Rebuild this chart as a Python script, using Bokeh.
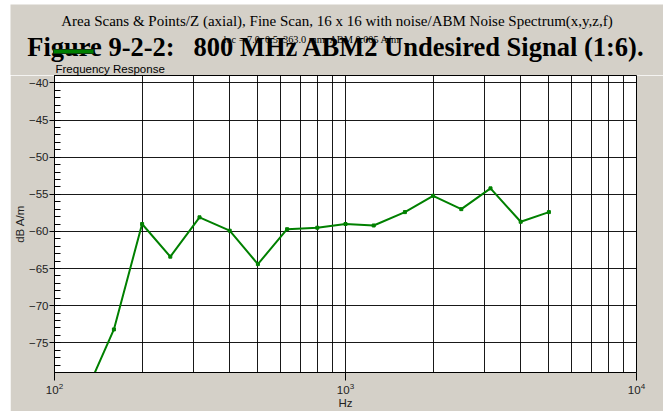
import math
from bokeh.plotting import figure
from bokeh.models import Range1d, FixedTicker, SingleIntervalTicker, Spacer
from bokeh.layouts import column, row
from bokeh.core.properties import value
from bokeh.embed import file_html
from bokeh.resources import INLINE

# Data
freq_hz = [125, 160, 200, 250, 315, 400, 500, 630, 800, 1000, 1250, 1600, 2000, 2500, 3150, 4000, 5000]
level_db = [-82.7, -73.2, -59.0, -63.4, -58.1, -59.9, -64.4, -59.7, -59.5, -59.0, -59.2, -57.4, -55.2, -57.0, -54.2, -58.7, -57.4]

x_major = [100, 1000, 10000]
x_minor = [200, 300, 400, 500, 600, 700, 800, 900, 2000, 3000, 4000, 5000, 6000, 7000, 8000, 9000]

title_top = "Area Scans & Points/Z (axial), Fine Scan, 16 x 16 with noise/ABM Noise Spectrum(x,y,z,f)"
title_fig = "Figure 9-2-2:"
title_main = "800 MHz ABM2 Undesired Signal (1:6)."
loc_text = "loc = 7.0, 0.5, 363.0 mm, ABM 0.005 A/m"
sub_title = "Frequency Response"
x_label = "Hz"
y_label = "dB A/m"

BG = "#d4d0c8"
GREEN = "#008000"
W = 653

# ---------------- header (titles) ----------------
HH = 71
h = figure(width=W, height=HH, output_backend="svg", toolbar_location=None,
           x_range=Range1d(0, W), y_range=Range1d(0, HH),
           x_axis_location=None, y_axis_location=None, min_border=0)
h.frame_align = False
h.grid.visible = False
h.outline_line_color = None
h.background_fill_color = BG
h.border_fill_color = BG

def htext(t, x, y, size, font="Liberation Serif", style="normal", align="left"):
    h.text(x=[x], y=[y], text=[t], text_font=value(font), text_font_size=value(size),
           text_font_style=style, text_align=align, text_baseline="alphabetic", text_color="black")

htext(title_top, 326.5, 54.5, "15px", align="center")
htext(title_fig, 16.7, 28.3, "26.5px", style="bold")
htext(title_main, 183, 28.3, "26.5px", style="bold")
htext(loc_text, 213, 36.3, "10.3px")
htext(sub_title, 45, 6.5, "11.5px", font="Liberation Sans")
h.quad(left=[43], right=[83], bottom=[22], top=[26], fill_color=GREEN, line_color="#0a400a", line_width=1)

# ---------------- main chart ----------------
p = figure(x_axis_type="log", output_backend="svg", toolbar_location=None,
           width=W, height=336,
           min_border_left=44, min_border_right=27, min_border_top=0, min_border_bottom=35,
           x_range=Range1d(100, 10000), y_range=Range1d(-79, -39))
p.frame_align = False
p.border_fill_color = BG
p.background_fill_color = "white"
p.outline_line_color = "black"
p.outline_line_width = 1

xa = p.xaxis[0]
xa.ticker = FixedTicker(ticks=x_major, minor_ticks=x_minor)
xa.major_tick_out = 8
xa.major_tick_in = 0
xa.minor_tick_out = 0
xa.minor_tick_in = 0
xa.axis_line_color = "black"
xa.major_tick_line_color = "black"
xa.major_label_text_font = "Liberation Sans"
xa.major_label_text_font_size = "11.5px"
xa.major_label_text_color = "#222222"
xa.major_label_standoff = 2
xa.axis_label = x_label
xa.axis_label_text_font = "Liberation Sans"
xa.axis_label_text_font_size = "11.5px"
xa.axis_label_text_font_style = "normal"
xa.axis_label_text_color = "#222222"
xa.axis_label_standoff = 0

ya = p.yaxis[0]
ya.ticker = SingleIntervalTicker(interval=5, num_minor_ticks=5)
ya.major_tick_out = 5
ya.major_tick_in = 0
ya.minor_tick_out = 0
ya.minor_tick_in = 6
ya.axis_line_color = "black"
ya.major_tick_line_color = "black"
ya.minor_tick_line_color = "black"
ya.major_label_text_font = "Liberation Sans"
ya.major_label_text_font_size = "11.5px"
ya.major_label_text_color = "#222222"
ya.major_label_standoff = 1
ya.axis_label = y_label
ya.axis_label_text_font = "Liberation Sans"
ya.axis_label_text_font_size = "11.5px"
ya.axis_label_text_font_style = "normal"
ya.axis_label_text_color = "#222222"
ya.axis_label_standoff = 0

p.xgrid.grid_line_color = "black"
p.xgrid.minor_grid_line_color = "black"
p.xgrid.grid_line_alpha = 0.9
p.xgrid.minor_grid_line_alpha = 0.9
p.ygrid.grid_line_color = "black"
p.ygrid.grid_line_alpha = 0.9
p.ygrid.minor_grid_line_color = None

p.line(freq_hz, level_db, line_color=GREEN, line_width=2)
p.scatter(freq_hz, level_db, marker="square", size=3, fill_color=GREEN, line_color=GREEN)

layout = row(Spacer(width=10), column(Spacer(height=4), h, p, spacing=0), spacing=0)

open("out.html", "w").write(file_html(layout, INLINE))
